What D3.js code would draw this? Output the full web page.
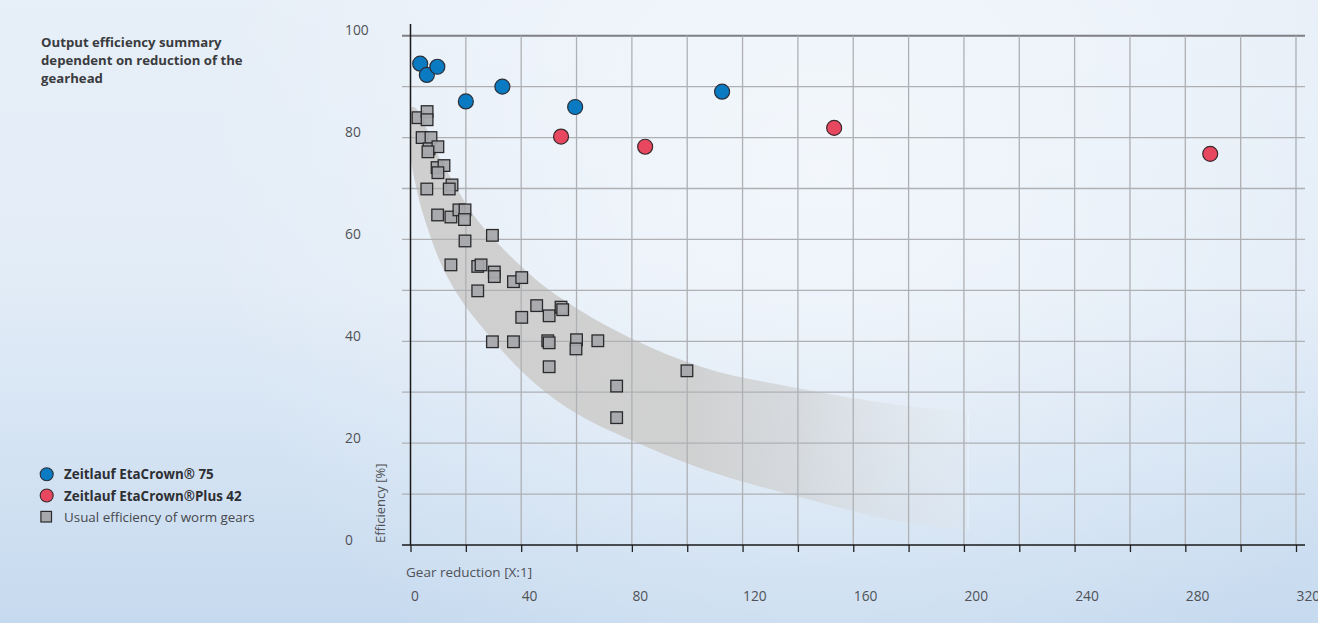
<!DOCTYPE html>
<html><head><meta charset="utf-8">
<script src="https://cdn.jsdelivr.net/npm/d3@7"></script>
<style>
body{margin:0;background:#dde9f5;}
svg{display:block;font-family:"Open Sans",sans-serif;}
</style>
</head><body>
<svg id="chart" width="1318" height="623"></svg>
<script>
// ---- data ----
const titleLines = ["Output efficiency summary", "dependent on reduction of the", "gearhead"];
const xTicks = [0, 40, 80, 120, 160, 200, 240, 280, 320];
const yTicks = [0, 20, 40, 60, 80, 100];
const xTitle = "Gear reduction [X:1]";
const yTitle = "Efficiency [%]";
const legendLabels = ["Zeitlauf EtaCrown® 75", "Zeitlauf EtaCrown®Plus 42", "Usual efficiency of worm gears"];

const etaCrownRatio = [3.5, 5.9, 9.7, 20.0, 33.2, 59.5, 112.6];
const etaCrownEff   = [94.5, 92.3, 93.9, 87.1, 90.0, 86.0, 89.0];

const etaPlusRatio = [54.4, 84.8, 153.1, 289.0];
const etaPlusEff   = [80.2, 78.2, 81.9, 76.8];

const wormRatio = [2.7, 6.0, 6.0, 4.2, 7.4, 6.7, 9.9, 6.3, 9.6, 12.1, 9.9, 5.9, 15.0, 14.0, 9.8, 14.6, 17.5, 19.7, 19.5, 19.7, 29.6, 14.6, 24.3, 25.5, 30.3, 30.3, 37.2, 40.2, 24.3, 45.6, 50.1, 54.4, 55.0, 40.2, 29.6, 37.2, 49.6, 50.1, 60.0, 59.8, 67.7, 50.1, 99.9, 74.5, 74.5];
const wormEff   = [83.9, 85.1, 83.5, 80.0, 80.0, 77.8, 78.2, 77.2, 74.1, 74.5, 73.1, 69.9, 70.7, 69.9, 64.8, 64.4, 65.8, 65.8, 63.9, 59.7, 60.8, 55.0, 54.7, 55.0, 53.6, 52.7, 51.7, 52.5, 49.9, 47.0, 45.0, 46.7, 46.2, 44.7, 39.9, 39.9, 40.1, 39.7, 40.3, 38.5, 40.1, 35.0, 34.2, 31.2, 25.0];

const bandRatio = [0, 1, 3, 6, 10, 15, 20, 24, 32, 40, 50, 60, 80, 105, 140, 177, 201.5];
const bandUpper = [86, 86, 85, 81.5, 76.5, 71.7, 67, 63.9, 59, 54.7, 50.1, 46.5, 40.5, 35, 30.8, 27.5, 26.1];
const bandLower = [76, 73, 68, 62.5, 56.5, 51, 46.8, 44, 38.8, 34.2, 29.5, 25.8, 20.5, 15, 9.5, 4.6, 2.9];

// ---- setup ----
const W = 1318, H = 623;
const svg = d3.select("#chart");
const x = d3.scaleLinear().domain([0, 320]).range([410.5, 1296]);
const y = d3.scaleLinear().domain([0, 100]).range([545, 35.7]);

const defs = svg.append("defs");
const bg = defs.append("linearGradient").attr("id", "bg").attr("x1", 0).attr("y1", 0).attr("x2", 0).attr("y2", 1);
bg.append("stop").attr("offset", "0%").attr("stop-color", "#e7eff8");
bg.append("stop").attr("offset", "45%").attr("stop-color", "#e2ecf7");
bg.append("stop").attr("offset", "100%").attr("stop-color", "#c6daef");
const glow = defs.append("radialGradient").attr("id", "glow")
  .attr("gradientUnits", "userSpaceOnUse").attr("cx", 820).attr("cy", 170).attr("r", 620);
glow.append("stop").attr("offset", "0%").attr("stop-color", "#ffffff").attr("stop-opacity", 0.55);
glow.append("stop").attr("offset", "100%").attr("stop-color", "#ffffff").attr("stop-opacity", 0);
const bandGrad = defs.append("linearGradient").attr("id", "bandGrad")
  .attr("gradientUnits", "userSpaceOnUse").attr("x1", x(0)).attr("x2", x(201.5)).attr("y1", 0).attr("y2", 0);
bandGrad.append("stop").attr("offset", "0%").attr("stop-color", "#cfcfcf").attr("stop-opacity", 1);
bandGrad.append("stop").attr("offset", "50%").attr("stop-color", "#cfcfcf").attr("stop-opacity", 0.95);
bandGrad.append("stop").attr("offset", "70%").attr("stop-color", "#d2d4d6").attr("stop-opacity", 0.75);
bandGrad.append("stop").attr("offset", "85%").attr("stop-color", "#d8dbdf").attr("stop-opacity", 0.45);
bandGrad.append("stop").attr("offset", "100%").attr("stop-color", "#e2e6ea").attr("stop-opacity", 0.25);

svg.append("rect").attr("width", W).attr("height", H).attr("fill", "url(#bg)");
svg.append("rect").attr("width", W).attr("height", H).attr("fill", "url(#glow)");

// ---- band ----
const bandData = bandRatio.map((r, i) => ({r, u: bandUpper[i], l: bandLower[i]}));
const area = d3.area().x(d => x(d.r)).y0(d => y(d.l)).y1(d => y(d.u)).curve(d3.curveMonotoneX);
svg.append("path").datum(bandData).attr("d", area).attr("fill", "url(#bandGrad)");
svg.append("line")
  .attr("x1", x(201.5)).attr("x2", x(201.5)).attr("y1", y(bandUpper[bandUpper.length-1])).attr("y2", y(bandLower[bandLower.length-1]))
  .attr("stroke", "#ffffff").attr("stroke-opacity", 0.4).attr("stroke-width", 1);

// ---- grid ----
const grid = svg.append("g");
const hGrid = d3.range(0, 101, 10);
const vGrid = d3.range(20, 321, 20);
grid.selectAll(".hg").data(hGrid.filter(v => v > 0)).join("line")
  .attr("x1", 402).attr("x2", 1305)
  .attr("y1", d => y(d)).attr("y2", d => y(d))
  .attr("stroke", d => d === 100 ? "#7d7f84" : "#aeb0b4")
  .attr("stroke-width", d => d === 100 ? 2 : 1.3);
grid.selectAll(".vg").data(vGrid).join("line")
  .attr("x1", d => x(d)).attr("x2", d => x(d))
  .attr("y1", y(100)).attr("y2", y(0))
  .attr("stroke", "#aeb0b4").attr("stroke-width", 1.3);

// axes
const xAxis = d3.axisBottom(x).tickValues(d3.range(0, 321, 20)).tickSize(7).tickFormat("");
const gx = svg.append("g").attr("transform", `translate(0,${y(0)})`).call(xAxis);
gx.select(".domain").remove();
gx.selectAll(".tick line").attr("stroke", "#222").attr("stroke-width", 1.3);
svg.append("line").attr("x1", 402).attr("x2", 1305).attr("y1", y(0)).attr("y2", y(0))
  .attr("stroke", "#1a1a1a").attr("stroke-width", 1.5);
svg.append("line").attr("x1", x(0)).attr("x2", x(0)).attr("y1", 24).attr("y2", y(0))
  .attr("stroke", "#1a1a1a").attr("stroke-width", 1.5);

// tick labels
svg.append("g").selectAll("text").data(yTicks).join("text")
  .attr("x", 345).attr("y", d => y(d) - 0.5)
  .attr("font-size", 13.8).attr("fill", "#505257").text(d => d);
svg.append("g").selectAll("text").data(xTicks).join("text")
  .attr("x", d => x(d) + 0.5).attr("y", 601)
  .attr("font-size", 13.8).attr("fill", "#505257").text(d => d);

svg.append("text").attr("x", 406).attr("y", 577).attr("font-size", 13.5).attr("fill", "#505257").text(xTitle);
svg.append("text").attr("transform", "translate(385,543) rotate(-90)")
  .attr("font-size", 13).attr("fill", "#505257").text(yTitle);

// ---- marks ----
svg.append("g").selectAll("rect").data(wormRatio.map((r, i) => [r, wormEff[i]])).join("rect")
  .attr("x", d => x(d[0]) - 5.8).attr("y", d => y(d[1]) - 5.8)
  .attr("width", 11.6).attr("height", 11.6)
  .attr("fill", "#a7a8ab").attr("fill-opacity", 0.95)
  .attr("stroke", "#2a2a2c").attr("stroke-width", 1.3);

svg.append("g").selectAll("circle").data(etaCrownRatio.map((r, i) => [r, etaCrownEff[i]])).join("circle")
  .attr("cx", d => x(d[0])).attr("cy", d => y(d[1])).attr("r", 7.5)
  .attr("fill", "#0a7bc2").attr("stroke", "#2a2f3a").attr("stroke-width", 1.2);

svg.append("g").selectAll("circle").data(etaPlusRatio.map((r, i) => [r, etaPlusEff[i]])).join("circle")
  .attr("cx", d => x(d[0])).attr("cy", d => y(d[1])).attr("r", 7.5)
  .attr("fill", "#e8485f").attr("stroke", "#3a2a2e").attr("stroke-width", 1.2);

// ---- title ----
svg.append("g").selectAll("text").data(titleLines).join("text")
  .attr("x", 41).attr("y", (d, i) => 46.5 + i * 18.2)
  .attr("font-size", 13.2).attr("font-weight", 700).attr("fill", "#3a3b3e").text(d => d);

// ---- legend ----
const lg = svg.append("g");
const rowY = [474.3, 495.5, 516.7];
lg.append("circle").attr("cx", 46.7).attr("cy", rowY[0]).attr("r", 6.5)
  .attr("fill", "#0a7bc2").attr("stroke", "#2a2f3a").attr("stroke-width", 1.1);
lg.append("circle").attr("cx", 46.7).attr("cy", rowY[1]).attr("r", 6.5)
  .attr("fill", "#e8485f").attr("stroke", "#3a2a2e").attr("stroke-width", 1.1);
lg.append("rect").attr("x", 46.2 - 5.3).attr("y", rowY[2] - 5.3).attr("width", 10.6).attr("height", 10.6)
  .attr("fill", "#a7a8ab").attr("stroke", "#2a2a2c").attr("stroke-width", 1.2);
lg.selectAll("text").data(legendLabels).join("text")
  .attr("x", 64).attr("y", (d, i) => rowY[i] + 5)
  .attr("font-size", 13.4).attr("font-weight", (d, i) => i < 2 ? 700 : 400)
  .attr("fill", (d, i) => i < 2 ? "#2e2f33" : "#46484c").text(d => d);
</script>
</body></html>
